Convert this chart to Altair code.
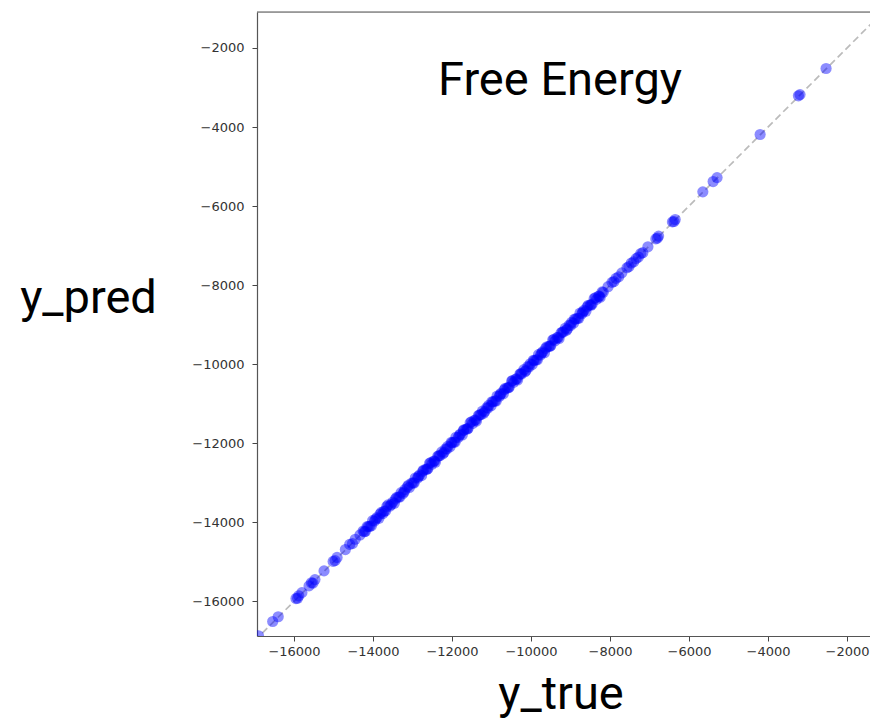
import altair as alt
import pandas as pd

# ---- data ----
y_true = [
    -16900, -16540, -16400, -15950, -15910, -15880, -15800, -15620, -15560, -15520,
    -15470, -15240, -15010, -14960, -14910, -14700, -14590, -14520, -14450, -14330,
    -14250, -14190, -14120, -14080, -14010, -13960, -13900, -13850, -13790, -13720,
    -13680, -13620, -13570, -13500, -13460, -13400, -13350, -13290, -13240, -13190,
    -13130, -13080, -13020, -12980, -12930, -12870, -12820, -12770, -12720, -12660,
    -12610, -12570, -12510, -12460, -12420, -12360, -12310, -12260, -12200, -12160,
    -12110, -12050, -12000, -11950, -11900, -11840, -11790, -11740, -11700, -11640,
    -11590, -11540, -11480, -11430, -11380, -11330, -11270, -11230, -11170, -11120,
    -11070, -11010, -10960, -10910, -10860, -10800, -10760, -10700, -10650, -10600,
    -10550, -10490, -10440, -10390, -10340, -10280, -10240, -10180, -10130, -10080,
    -10020, -9970, -9920, -9870, -9810, -9760, -9710, -9660, -9600, -9550,
    -9500, -9450, -9390, -9340, -9290, -9240, -9180, -9130, -9080, -9030,
    -8970, -8920, -8870, -8820, -8760, -8710, -8660, -8610, -8550, -8500,
    -8450, -8400, -8340, -8290, -8250, -8200, -8170,
    -8050, -7950, -7900, -7850, -7780, -7700, -7570, -7520, -7460, -7400,
    -7340, -7280, -7220, -7170, -7040, -6840, -6800, -6770, -6420, -6380,
    -6350, -5650, -5390, -5290, -4200, -3230, -3190, -2530,
]
y_pred = [
    -16870, -16510, -16390, -15930, -15920, -15860, -15780, -15610, -15530, -15540,
    -15450, -15230, -14990, -14970, -14890, -14690, -14560, -14540, -14430, -14320,
    -14220, -14230, -14110, -14100, -13960, -13970, -13880, -13900, -13750, -13720,
    -13710, -13560, -13590, -13490, -13520, -13370, -13360, -13250, -13270, -13170,
    -13100, -13120, -13010, -13000, -12880, -12880, -12800, -12820, -12680, -12660,
    -12640, -12510, -12530, -12450, -12480, -12330, -12320, -12220, -12230, -12140,
    -12080, -12090, -11990, -11970, -11850, -11850, -11770, -11790, -11660, -11640,
    -11620, -11480, -11500, -11420, -11440, -11300, -11280, -11190, -11200, -11100,
    -11040, -11050, -10950, -10930, -10810, -10810, -10740, -10750, -10610, -10600,
    -10580, -10430, -10460, -10380, -10400, -10250, -10250, -10140, -10160, -10060,
    -9990, -10010, -9910, -9890, -9760, -9770, -9690, -9710, -9560, -9550,
    -9530, -9390, -9410, -9330, -9350, -9210, -9190, -9090, -9110, -9010,
    -8940, -8960, -8860, -8840, -8710, -8720, -8640, -8660, -8510, -8500,
    -8480, -8340, -8360, -8280, -8310, -8170, -8180,
    -8040, -7930, -7910, -7830, -7790, -7690, -7560, -7530, -7440, -7410,
    -7330, -7290, -7200, -7180, -7030, -6830, -6810, -6760, -6400, -6390,
    -6340, -5640, -5380, -5280, -4190, -3210, -3180, -2520,
]
# second batch of points inside the dense band
y_true_b = [
    -14220, -14150, -14040, -13930, -13820, -13750, -13650, -13540, -13430, -13320,
    -13210, -13100, -12960, -12850, -12740, -12630, -12540, -12440, -12330, -12230,
    -12130, -12020, -11920, -11810, -11710, -11610, -11510, -11400, -11300, -11200,
    -11090, -10990, -10880, -10780, -10680, -10570, -10470, -10360, -10260, -10150,
    -10050, -9940, -9840, -9730, -9630, -9520, -9420, -9310, -9210, -9100,
    -9000, -8900, -8790, -8690, -8580, -8480, -8370, -8270,
]
y_pred_b = [
    -14240, -14110, -14090, -13920, -13790, -13780, -13600, -13550, -13410, -13360,
    -13230, -13060, -13010, -12840, -12710, -12660, -12490, -12450, -12310, -12270,
    -12150, -11980, -11970, -11800, -11680, -11640, -11460, -11410, -11280, -11240,
    -11110, -10950, -10930, -10770, -10650, -10600, -10420, -10370, -10240, -10190,
    -10070, -9900, -9890, -9720, -9600, -9550, -9370, -9320, -9190, -9140,
    -9020, -8860, -8840, -8680, -8550, -8510, -8320, -8280,
]
ideal_line = [-17000, -1000]
tick_values = [-16000, -14000, -12000, -10000, -8000, -6000, -4000, -2000]
x_domain = [-16937, -1418]
y_domain = [-16877, -1090]

W, H = 613, 624

pts = pd.DataFrame({"y_true": y_true + y_true_b, "y_pred": y_pred + y_pred_b})
line_df = pd.DataFrame({"a": ideal_line, "b": ideal_line})

axis_common = dict(
    values=tick_values, format="d", grid=False, title=None,
    labelFont="DejaVu Sans", labelFontSize=13, labelColor="#333333",
    tickColor="#444444", tickSize=5, tickWidth=1,
    domainColor="#555555", domainWidth=1.2,
)
xs = alt.Scale(domain=x_domain, nice=False, zero=False)
ys = alt.Scale(domain=y_domain, nice=False, zero=False)

line = alt.Chart(line_df).mark_line(
    color="#bbbbbb", strokeWidth=1.7, strokeDash=[7, 4], clip=True
).encode(
    x=alt.X("a:Q", scale=xs, axis=alt.Axis(labelPadding=4, **axis_common)),
    y=alt.Y("b:Q", scale=ys, axis=alt.Axis(labelPadding=8, **axis_common)),
)

scatter = alt.Chart(pts).mark_circle(
    color="#0000ff", opacity=0.45, size=125, clip=True
).encode(
    x=alt.X("y_true:Q", scale=xs),
    y=alt.Y("y_pred:Q", scale=ys),
)

top_spine = alt.Chart(pd.DataFrame({"k": [0]})).mark_rule(
    color="#555555", strokeWidth=1.2
).encode(x=alt.value(0), x2=alt.value(W), y=alt.value(0))

def label(txt, x, y, align):
    return alt.Chart(pd.DataFrame({"t": [txt]})).mark_text(
        font="Roboto", fontSize=47, color="#000000", align=align,
        baseline="alphabetic"
    ).encode(text="t:N", x=alt.value(x), y=alt.value(y))

title_txt = label("Free Energy", 181, 83, "left")
ylab = label("y_pred", -168.5, 301, "center")
xlab = label("y_true", 304, 697, "center")

chart = alt.layer(line, scatter, top_spine, title_txt, ylab, xlab).properties(
    width=W, height=H,
    autosize=alt.AutoSizeParams(type="none"),
    padding={"left": 249, "top": 4, "right": 0, "bottom": 84},
).configure_view(stroke=None).configure(background="white")

chart.save("out.html", embed_options={"renderer": "svg", "actions": False})
